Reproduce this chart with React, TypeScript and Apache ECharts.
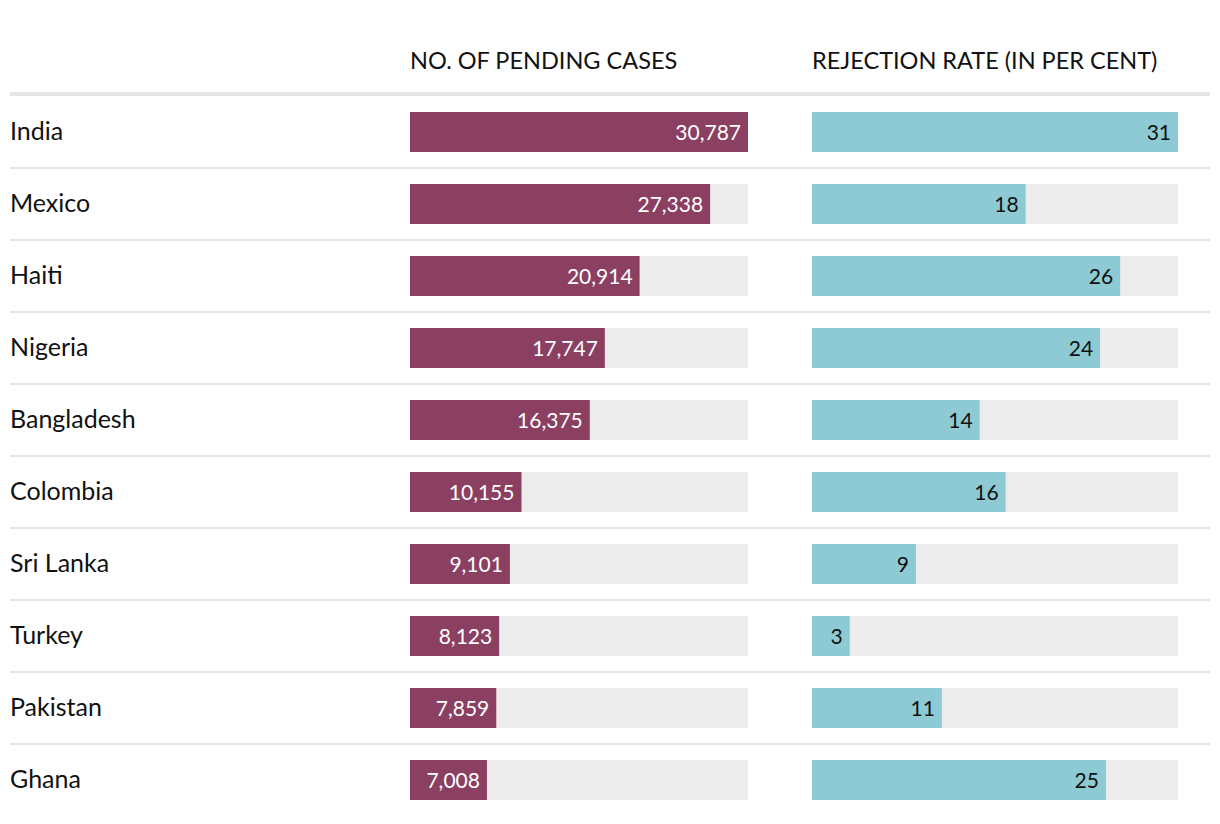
import React, { useEffect, useRef } from "react";
import * as echarts from "echarts";

const countries = ["India", "Mexico", "Haiti", "Nigeria", "Bangladesh", "Colombia", "Sri Lanka", "Turkey", "Pakistan", "Ghana"];
const pendingCases = [30787, 27338, 20914, 17747, 16375, 10155, 9101, 8123, 7859, 7008];
// rejection rates; labels show them rounded
const rejectionRate = [31, 18.1, 26.1, 24.4, 14.2, 16.4, 8.8, 3.2, 11, 24.9];
const headers = ["NO. OF PENDING CASES", "REJECTION RATE (IN PER CENT)"];

const FONT = "Lato";
const ROW_TOP = 96;
const ROW_H = 72;
const GRID_H = ROW_H * countries.length;

export default function App() {
  const ref = useRef<HTMLDivElement>(null);
  useEffect(() => {
    if (!ref.current) return;
    const chart = echarts.init(ref.current, undefined, { renderer: "svg" });
    const common = { top: ROW_TOP, height: GRID_H, containLabel: false };
    const hiddenX = (max: number, gridIndex: number) => ({
      type: "value",
      gridIndex,
      min: 0,
      max,
      show: false,
      splitLine: { show: false },
    });
    const catY = (gridIndex: number, showLabel: boolean, split: boolean) => ({
      type: "category",
      gridIndex,
      data: countries,
      inverse: true,
      axisLine: { show: false },
      axisTick: { show: false },
      axisLabel: showLabel
        ? {
            show: true,
            align: "left",
            margin: 400,
            formatter: "{n|{value}}",
            rich: {
              n: { color: "#111", fontSize: 25, fontFamily: FONT, padding: [0, 0, 5, 0] },
            },
          }
        : { show: false },
      splitLine: split
        ? { show: true, showMinLine: false, showMaxLine: false, lineStyle: { color: "#e6e6e6", width: 2 } }
        : { show: false },
    });
    const fmtInt = (p: any) => Math.round(Number(p.value)).toLocaleString("en-US");
    const labelBase = {
      show: true,
      position: "insideRight",
      distance: 7,
      offset: [0, -1],
      fontSize: 21,
      fontFamily: FONT,
      formatter: fmtInt,
    };
    chart.setOption({
      animation: false,
      grid: [
        { ...common, left: 10, width: 1200 },
        { ...common, left: 410, width: 338 },
        { ...common, left: 812, width: 366 },
      ],
      xAxis: [hiddenX(1, 0), hiddenX(pendingCases[0], 1), hiddenX(rejectionRate[0], 2)],
      yAxis: [catY(0, false, true), catY(1, true, false), catY(2, false, false)],
      graphic: [
        {
          type: "line",
          shape: { x1: 10, y1: 94, x2: 1210, y2: 94 },
          style: { stroke: "#e6e6e6", lineWidth: 4 },
        },
        {
          type: "text",
          x: 410,
          y: 60,
          style: { text: headers[0], fill: "#111", font: `23.5px ${FONT}`, textVerticalAlign: "middle" },
        },
        {
          type: "text",
          x: 812,
          y: 60,
          style: { text: headers[1], fill: "#111", font: `23.5px ${FONT}`, textVerticalAlign: "middle" },
        },
      ],
      series: [
        {
          type: "bar",
          xAxisIndex: 1,
          yAxisIndex: 1,
          data: pendingCases,
          barWidth: 40,
          itemStyle: { color: "#8b3f61" },
          showBackground: true,
          backgroundStyle: { color: "#ececec" },
          label: { ...labelBase, color: "#fff" },
        },
        {
          type: "bar",
          xAxisIndex: 2,
          yAxisIndex: 2,
          data: rejectionRate,
          barWidth: 40,
          itemStyle: { color: "#8ecad4" },
          showBackground: true,
          backgroundStyle: { color: "#ececec" },
          label: { ...labelBase, color: "#111" },
        },
      ],
    });
    return () => chart.dispose();
  }, []);
  return (
    <div
      ref={ref}
      style={{ position: "absolute", left: 0, top: 0, width: 1220, height: 824, background: "#fff" }}
    />
  );
}
